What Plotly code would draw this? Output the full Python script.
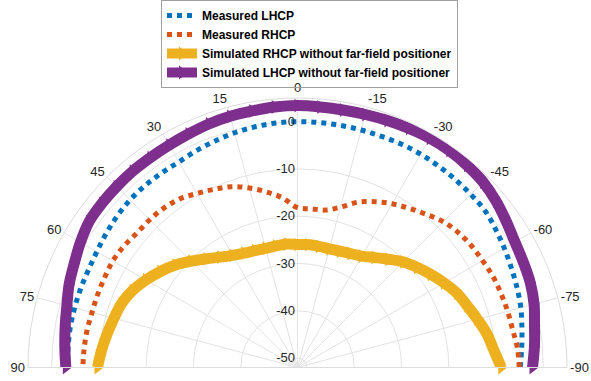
import plotly.graph_objects as go

theta = [-90, -85, -80, -75, -70, -65, -60, -55, -50, -45, -40, -35, -30, -25, -20, -15, -10, -5,
         0, 5, 10, 15, 20, 25, 30, 35, 40, 45, 50, 55, 60, 65, 70, 75, 80, 85, 90]

meas_lhcp = [-4.9, -4.4, -3.8, -3.1, -2.6, -2.1, -1.5, -0.9, -0.3, -0.2, -0.1, 0.0, 0.1, 0.1, 0.0, 0.0, 0.0, 0.0,
             0.0, -0.1, -0.3, -0.6, -1.0, -1.4, -1.8, -1.8, -1.8, -1.9, -2.2, -2.6, -3.0, -3.2, -3.2, -3.2, -3.2, -3.3, -3.4]

meas_rhcp = [-5.1, -5.3, -5.8, -6.0, -6.2, -6.4, -6.8, -7.1, -7.6, -8.4, -9.7, -10.9, -12.0, -13.3, -14.8, -16.9, -18.2, -18.3,
             -18.2, -16.0, -14.3, -12.7, -11.3, -10.4, -9.5, -8.5, -8.0, -7.8, -7.7, -7.2, -6.9, -7.0, -7.0, -7.0, -6.8, -6.7, -6.6]

sim_rhcp = [-8.9, -10.3, -11.3, -12.6, -13.8, -14.8, -16.2, -17.6, -19.0, -20.4, -22.1, -23.6, -24.8, -25.4, -25.8, -26.0, -26.0, -25.9,
            -26.0, -25.8, -25.9, -25.9, -25.7, -25.3, -24.6, -23.5, -22.0, -20.2, -18.3, -16.6, -15.0, -13.5, -12.4, -11.8, -11.1, -10.4, -9.7]

sim_lhcp = [-2.3, -1.7, -1.1, -0.2, 0.4, 0.7, 1.1, 1.9, 2.8, 3.5, 3.8, 4.0, 4.0, 3.8, 3.6, 3.4, 3.3, 3.3,
            3.4, 3.3, 3.1, 3.0, 2.8, 2.5, 2.3, 2.2, 2.2, 2.1, 2.0, 1.8, 1.0, 0.1, -0.6, -1.5, -2.1, -2.6, -3.0]

theta_ticks = [-90, -75, -60, -45, -30, -15, 0, 15, 30, 45, 60, 75, 90]
r_ticks = [-50, -40, -30, -20, -10, 0]
r_range = [-52, 5]

BLUE = "#0072BD"
ORANGE = "#D95319"
YELLOW = "#EDB120"
PURPLE = "#7E2F8E"

fig = go.Figure()
fig.add_trace(go.Scatterpolar(
    r=meas_lhcp, theta=theta, mode="lines", name="Measured LHCP",
    line=dict(color=BLUE, width=5, dash="dot", shape="spline"), cliponaxis=False))
fig.add_trace(go.Scatterpolar(
    r=meas_rhcp, theta=theta, mode="lines", name="Measured RHCP",
    line=dict(color=ORANGE, width=5, dash="dot", shape="spline"), cliponaxis=False))
fig.add_trace(go.Scatterpolar(
    r=sim_rhcp, theta=theta, mode="lines+markers", name="Simulated RHCP without far-field positioner",
    line=dict(color=YELLOW, width=11, shape="spline"),
    marker=dict(symbol="triangle-right", size=12, color=YELLOW), cliponaxis=False))
fig.add_trace(go.Scatterpolar(
    r=sim_lhcp, theta=theta, mode="lines+markers", name="Simulated LHCP without far-field positioner",
    line=dict(color=PURPLE, width=11, shape="spline"),
    marker=dict(symbol="triangle-right", size=12, color=PURPLE), cliponaxis=False))

W, H = 591, 381
cx, cy, R = 297.5, 367.5, 269.5
fig.update_layout(
    width=W, height=H,
    margin=dict(l=0, r=0, t=0, b=0),
    paper_bgcolor="white",
    font=dict(family="Liberation Sans, Arial, sans-serif", size=13, color="#262626"),
    polar=dict(
        domain=dict(x=[(cx - R) / W, (cx + R) / W], y=[(H - cy) / H, (H - cy + R) / H]),
        sector=[0, 180],
        bgcolor="white",
        angularaxis=dict(
            rotation=90, direction="counterclockwise",
            tickmode="array", tickvals=theta_ticks, ticktext=[str(t) for t in theta_ticks],
            showgrid=True, gridcolor="#e3e3e3", gridwidth=1,
            showline=True, linecolor="#dcdcdc", linewidth=1,
            ticks="", tickfont=dict(size=13, color="#262626"),
        ),
        radialaxis=dict(
            range=r_range, angle=90, tickangle=90, side="counterclockwise",
            tickmode="array", tickvals=r_ticks, ticktext=[str(t) for t in r_ticks],
            showgrid=True, gridcolor="#e3e3e3", gridwidth=1,
            showline=False, ticks="", tickfont=dict(size=13, color="#262626"),
        ),
    ),
    legend=dict(
        x=309.5 / W, y=1.0, xanchor="center", yanchor="top",
        bgcolor="rgba(255,255,255,0)", bordercolor="#a0a0a0", borderwidth=1,
        font=dict(family="Liberation Sans, Arial, sans-serif", size=12, color="black", weight="bold"),
        tracegroupgap=0, itemwidth=30,
    ),
    showlegend=True,
)

fig.write_html("out.html")
